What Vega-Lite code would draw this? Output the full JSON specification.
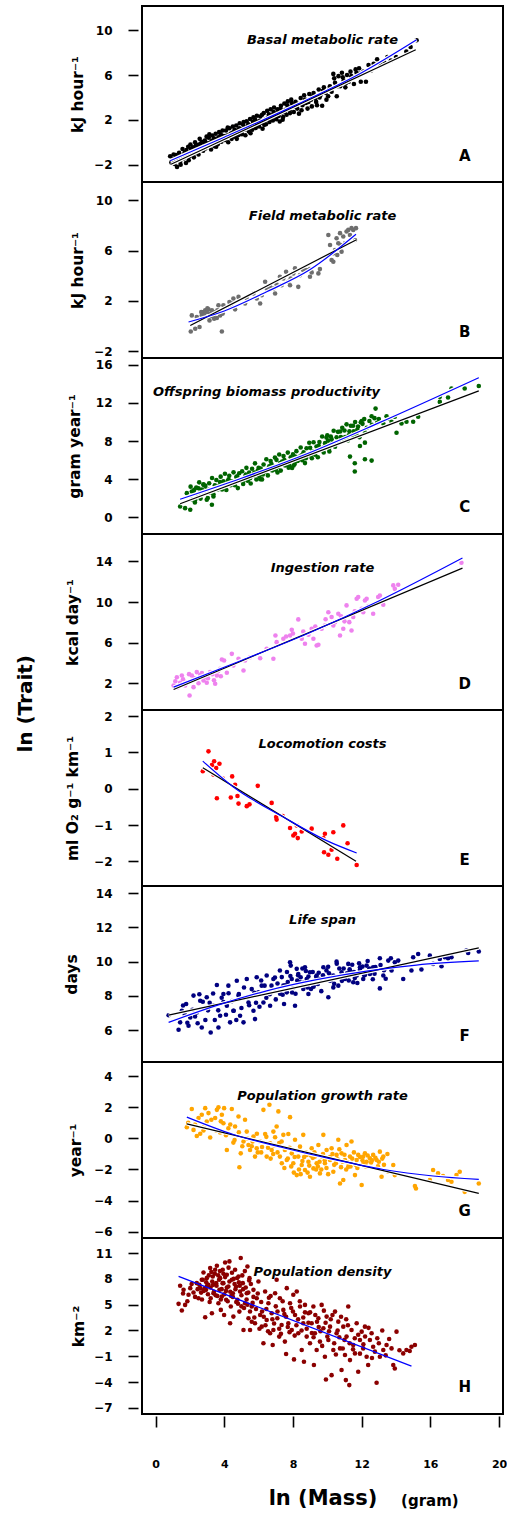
{
  "$schema": "https://vega.github.io/schema/vega-lite/v6.json",
  "background": "white",
  "padding": {"left": 15, "top": 5, "right": 0, "bottom": 0},
  "config": {
    "font": "DejaVu Sans",
    "view": {"stroke": "black", "strokeWidth": 2},
    "axis": {"domain": false, "grid": false, "format": "d", "tickColor": "black", "tickWidth": 1.6, "tickCount": 30, "labelFont": "DejaVu Sans", "labelFontWeight": "bold", "labelFontSize": 12, "labelColor": "black", "labelFlush": false, "labelBound": false, "labelOverlap": false, "titleFont": "DejaVu Sans", "titleFontWeight": "bold", "titleColor": "black"},
    "axisY": {"offset": 4, "tickSize": 10, "labelPadding": 16, "titleFontSize": 15.5, "titleBaseline": "alphabetic", "titleAngle": -90, "labelOverlap": false, "tickCount": 30},
    "axisX": {"offset": 2, "tickSize": 11, "labelPadding": 31, "labelFontSize": 11, "titleFontSize": 21, "titlePadding": 18, "labelOverlap": false, "tickCount": 30},
    "title": {"font": "DejaVu Sans", "fontSize": 13, "fontWeight": "bold", "fontStyle": "italic", "color": "black", "anchor": "middle", "offset": -41, "baseline": "alphabetic", "frame": "group"},
    "legend": {"disable": true}
  },
  "spacing": 0,
  "bounds": "flush",
  "datasets": {
    "ptsA": [
      {"x":0.85,"y":-1.25},{"x":0.92,"y":-1.8},{"x":0.98,"y":-1.5},{"x":1.05,"y":-1.1},{"x":1.1,"y":-1.95},{"x":1.18,"y":-1.15},{"x":1.25,"y":-2.2},{"x":1.3,"y":-1.55},{"x":1.37,"y":-0.95},{"x":1.43,"y":-1.75},{"x":1.5,"y":-1.2},{"x":1.57,"y":-0.6},{"x":1.63,"y":-1.45},{"x":1.7,"y":-0.9},{"x":1.77,"y":-1.85},{"x":1.83,"y":-1.05},{"x":1.9,"y":-0.4},{"x":1.97,"y":-1.25},
      {"x":2.03,"y":-0.2},{"x":2.1,"y":-0.95},{"x":2.17,"y":-0.45},{"x":2.23,"y":-1.35},{"x":2.3,"y":0.0},{"x":2.37,"y":-0.65},{"x":2.43,"y":-0.25},{"x":2.5,"y":-1.1},{"x":2.57,"y":0.3},{"x":2.63,"y":-0.4},{"x":2.7,"y":0.05},{"x":2.77,"y":-0.75},{"x":2.83,"y":-0.1},{"x":2.9,"y":-0.55},{"x":2.97,"y":0.5},
      {"x":3.03,"y":-0.3},{"x":3.1,"y":0.4},{"x":3.17,"y":-0.05},{"x":3.23,"y":-0.65},{"x":3.3,"y":0.6},{"x":3.37,"y":0.15},{"x":3.43,"y":-0.35},{"x":3.5,"y":0.75},{"x":3.57,"y":0.25},{"x":3.63,"y":-0.15},{"x":3.7,"y":0.9},{"x":3.77,"y":0.45},{"x":3.83,"y":0.05},{"x":3.9,"y":1.05},{"x":3.97,"y":0.55},
      {"x":4.03,"y":0.2},{"x":4.1,"y":1.05},{"x":4.17,"y":0.6},{"x":4.23,"y":0.0},{"x":4.3,"y":1.25},{"x":4.37,"y":0.75},{"x":4.43,"y":0.3},{"x":4.5,"y":1.4},{"x":4.57,"y":0.9},{"x":4.63,"y":0.5},{"x":4.7,"y":1.5},{"x":4.77,"y":1.05},{"x":4.83,"y":0.65},{"x":4.9,"y":1.7},{"x":4.97,"y":1.15},
      {"x":5.03,"y":0.72},{"x":5.1,"y":1.57},{"x":5.17,"y":1.12},{"x":5.23,"y":0.62},{"x":5.3,"y":1.87},{"x":5.37,"y":1.37},{"x":5.43,"y":0.97},{"x":5.5,"y":2.07},{"x":5.57,"y":1.52},{"x":5.63,"y":1.12},{"x":5.7,"y":2.22},{"x":5.77,"y":1.67},{"x":5.83,"y":1.27},{"x":5.9,"y":2.37},{"x":5.97,"y":1.82},
      {"x":6.03,"y":1.4},{"x":6.1,"y":2.3},{"x":6.17,"y":1.75},{"x":6.23,"y":1.2},{"x":6.3,"y":2.6},{"x":6.37,"y":2.0},{"x":6.43,"y":1.6},{"x":6.5,"y":2.8},{"x":6.57,"y":2.25},{"x":6.63,"y":1.8},{"x":6.7,"y":2.95},{"x":6.77,"y":2.4},{"x":6.83,"y":1.95},{"x":6.9,"y":3.1},{"x":6.97,"y":2.55},
      {"x":7.03,"y":2.05},{"x":7.1,"y":2.95},{"x":7.17,"y":2.35},{"x":7.23,"y":1.85},{"x":7.3,"y":3.25},{"x":7.37,"y":2.65},{"x":7.43,"y":2.25},{"x":7.5,"y":3.45},{"x":7.57,"y":2.9},{"x":7.63,"y":2.45},{"x":7.7,"y":3.65},{"x":7.77,"y":3.05},{"x":7.83,"y":2.6},{"x":7.9,"y":3.8},{"x":7.97,"y":3.2},
      {"x":8.05,"y":2.7},{"x":8.15,"y":3.6},{"x":8.25,"y":3.0},{"x":8.35,"y":2.55},{"x":8.45,"y":3.95},{"x":8.55,"y":3.3},{"x":8.65,"y":4.2},{"x":8.75,"y":3.5},{"x":8.85,"y":3.0},{"x":8.95,"y":4.3},
      {"x":9.05,"y":3.8},{"x":9.1,"y":3.2},{"x":9.2,"y":4.4},{"x":9.3,"y":3.9},{"x":9.4,"y":3.3},{"x":9.5,"y":4.7},{"x":9.6,"y":4.2},{"x":9.7,"y":3.25},{"x":9.8,"y":4.9},{"x":9.9,"y":4.4},
      {"x":10.05,"y":4.1},{"x":10.15,"y":5.0},{"x":10.25,"y":4.5},{"x":10.35,"y":6.1},{"x":10.45,"y":5.3},{"x":10.55,"y":4.1},{"x":10.65,"y":5.9},{"x":10.75,"y":5.0},{"x":10.85,"y":6.2},{"x":10.95,"y":5.5},
      {"x":11.05,"y":4.9},{"x":11.15,"y":6.0},{"x":11.25,"y":5.4},{"x":11.35,"y":6.3},{"x":11.45,"y":5.8},{"x":11.55,"y":5.2},{"x":11.65,"y":6.5},{"x":11.75,"y":5.9},{"x":11.85,"y":6.6},{"x":11.95,"y":5.4},
      {"x":12.1,"y":6.3},{"x":12.25,"y":5.4},{"x":12.4,"y":6.9},{"x":12.55,"y":6.4},{"x":12.7,"y":7.0},{"x":12.9,"y":7.4},{"x":13.1,"y":6.9},{"x":13.3,"y":7.2},{"x":13.5,"y":7.6},{"x":13.7,"y":7.3},{"x":14.0,"y":7.6},{"x":14.6,"y":8.1},{"x":14.85,"y":8.5},{"x":15.2,"y":9.1},
      {"x":1.02,"y":-1.6},{"x":1.21,"y":-1.35},{"x":1.4,"y":-1.3},{"x":1.46,"y":-2.0},{"x":1.66,"y":-1.1},{"x":1.8,"y":-0.7},{"x":1.93,"y":-1.6},{"x":2.07,"y":-0.6},{"x":2.2,"y":-1.1},{"x":2.34,"y":-0.3},{"x":2.47,"y":-0.8},{"x":2.6,"y":-0.15},{"x":2.74,"y":-0.45},{"x":2.87,"y":0.15},{"x":3.0,"y":-0.1},{"x":3.13,"y":0.7},{"x":3.27,"y":0.1},{"x":3.4,"y":0.35},{"x":3.53,"y":-0.4},{"x":3.66,"y":0.45},{"x":3.8,"y":0.7},{"x":3.93,"y":0.25},{"x":4.07,"y":0.5},{"x":4.2,"y":1.3},{"x":4.33,"y":0.55},{"x":4.47,"y":0.85},{"x":4.6,"y":1.1},{"x":4.73,"y":0.3},{"x":4.87,"y":1.25},{"x":5.0,"y":1.0},{"x":5.13,"y":1.8},{"x":5.27,"y":1.3},{"x":5.4,"y":1.6},{"x":5.53,"y":0.8},{"x":5.67,"y":1.85},{"x":5.8,"y":2.0},{"x":5.93,"y":1.45},{"x":6.07,"y":1.9},{"x":6.2,"y":2.45},{"x":6.33,"y":1.55},{"x":6.47,"y":2.1},{"x":6.6,"y":2.5},{"x":6.73,"y":2.1},{"x":6.87,"y":2.7},{"x":7.0,"y":2.3},{"x":7.13,"y":2.6},{"x":7.27,"y":3.0},{"x":7.4,"y":2.0},{"x":7.53,"y":2.7},{"x":7.67,"y":3.3},{"x":7.8,"y":2.85},{"x":7.93,"y":3.5},{"x":8.1,"y":3.2},{"x":8.3,"y":3.4},{"x":8.5,"y":2.85},{"x":8.7,"y":3.8},{"x":8.9,"y":3.6},{"x":9.15,"y":4.1},{"x":9.35,"y":3.6},{"x":9.55,"y":4.0},{"x":9.75,"y":4.6},{"x":9.95,"y":3.8},{"x":10.1,"y":4.7},{"x":10.4,"y":5.7},{"x":10.6,"y":5.0},{"x":10.9,"y":5.8},{"x":11.1,"y":5.3},{"x":11.4,"y":5.9},{"x":11.7,"y":6.2},{"x":11.9,"y":6.1}
    ],
    "fitA": [
      {"fit":"linear","x":0.9,"y":-1.97},{"fit":"linear","x":15.15,"y":8.25},
      {"fit":"quadratic","x":0.85,"y":-1.65},{"fit":"quadratic","x":4,"y":0.45},{"fit":"quadratic","x":8,"y":3.2},{"fit":"quadratic","x":12,"y":6.2},{"fit":"quadratic","x":15.2,"y":9.14}
    ],
    "ptsB": [
      {"x":2.05,"y":-0.43},{"x":2.11,"y":0.85},{"x":2.21,"y":0.32},{"x":2.4,"y":0.72},{"x":2.56,"y":-0.08},{"x":2.69,"y":0.85},{"x":2.79,"y":1.12},{"x":2.89,"y":1.25},{"x":2.98,"y":1.12},{"x":3.08,"y":1.33},{"x":3.18,"y":0.99},{"x":3.14,"y":0.45},{"x":3.28,"y":1.25},{"x":3.37,"y":0.85},{"x":3.47,"y":1.12},{"x":3.57,"y":0.64},{"x":3.66,"y":1.65},{"x":3.76,"y":0.85},{"x":3.86,"y":-0.43},{"x":3.95,"y":1.65},{"x":3.91,"y":0.99},{"x":4.15,"y":1.39},{"x":4.3,"y":1.92},{"x":4.44,"y":1.79},{"x":4.53,"y":2.19},{"x":4.83,"y":2.32},{"x":5.21,"y":1.79},{"x":5.7,"y":2.59},{"x":5.89,"y":2.19},{"x":6.18,"y":2.45},{"x":6.38,"y":3.52},{"x":6.47,"y":2.99},{"x":6.67,"y":3.12},{"x":6.96,"y":2.59},{"x":7.05,"y":3.31},{"x":7.34,"y":3.25},{"x":7.44,"y":3.79},{"x":7.6,"y":4.32},{"x":7.73,"y":3.52},{"x":7.87,"y":3.79},{"x":8.02,"y":4.19},{"x":8.12,"y":4.59},{"x":8.31,"y":3.12},{"x":8.41,"y":4.05},{"x":8.6,"y":4.45},{"x":8.8,"y":4.45},{"x":8.99,"y":4.53},{"x":9.09,"y":4.27},{"x":9.48,"y":4.19},{"x":10.06,"y":7.25},{"x":10.16,"y":6.45},{"x":10.25,"y":5.25},{"x":10.35,"y":5.79},{"x":10.45,"y":6.05},{"x":10.54,"y":6.99},{"x":10.64,"y":6.59},{"x":10.74,"y":7.39},{"x":10.83,"y":5.92},{"x":10.93,"y":7.12},{"x":11.03,"y":6.59},{"x":11.12,"y":7.52},{"x":11.22,"y":7.65},{"x":11.32,"y":7.25},{"x":11.41,"y":7.79},{"x":11.51,"y":7.65},{"x":11.61,"y":6.85},{"x":11.67,"y":7.79},{"x":10.35,"y":5.12},{"x":10.58,"y":5.65},{"x":10.78,"y":6.45},{"x":2.66,"y":1.12},{"x":2.83,"y":0.85},{"x":2.94,"y":0.72},{"x":3.02,"y":1.41},{"x":3.24,"y":0.8},{"x":3.41,"y":0.59},{"x":3.6,"y":1.25},{"x":2.5,"y":0.45},{"x":2.31,"y":-0.21},{"x":4.34,"y":1.65},{"x":4.63,"y":1.33},{"x":5.31,"y":2.19},{"x":6.09,"y":1.79},{"x":6.86,"y":2.99},{"x":7.24,"y":3.92},{"x":7.83,"y":3.25},{"x":8.99,"y":3.92},{"x":9.57,"y":4.53}
    ],
    "fitB": [
      {"fit":"linear","x":2.02,"y":0.05},{"fit":"linear","x":11.67,"y":6.85},
      {"fit":"quadratic","x":1.92,"y":0.32},{"fit":"quadratic","x":4,"y":1.2},{"fit":"quadratic","x":6.5,"y":2.75},{"fit":"quadratic","x":9,"y":4.5},{"fit":"quadratic","x":11.67,"y":7.3}
    ],
    "ptsC": [
      {"x":1.43,"y":1.15},{"x":1.72,"y":0.97},{"x":2.02,"y":0.8},{"x":1.82,"y":2.54},{"x":2.11,"y":2.71},{"x":2.31,"y":1.84},{"x":2.5,"y":3.05},{"x":2.79,"y":3.41},{"x":2.98,"y":1.84},{"x":3.28,"y":1.32},{"x":3.37,"y":2.19},{"x":3.08,"y":2.89},
      {"x":2.04,"y":3.22},{"x":2.12,"y":1.87},{"x":2.2,"y":2.72},{"x":2.29,"y":1.57},{"x":2.37,"y":3.12},{"x":2.45,"y":2.37},{"x":2.54,"y":3.67},{"x":2.62,"y":1.97},{"x":2.7,"y":2.92},{"x":2.79,"y":3.47},{"x":2.87,"y":2.47},{"x":2.95,"y":2.87},
      {"x":3.04,"y":2.02},{"x":3.12,"y":3.57},{"x":3.2,"y":2.82},{"x":3.29,"y":4.12},{"x":3.37,"y":2.42},{"x":3.45,"y":3.37},{"x":3.54,"y":3.92},{"x":3.62,"y":2.92},{"x":3.7,"y":3.32},{"x":3.79,"y":4.27},{"x":3.87,"y":2.92},{"x":3.95,"y":3.77},
      {"x":4.04,"y":4.57},{"x":4.12,"y":2.87},{"x":4.2,"y":3.82},{"x":4.29,"y":4.37},{"x":4.37,"y":3.37},{"x":4.45,"y":3.77},{"x":4.54,"y":4.72},{"x":4.62,"y":3.37},{"x":4.7,"y":4.22},{"x":4.79,"y":3.07},{"x":4.87,"y":4.62},{"x":4.95,"y":3.87},
      {"x":5.04,"y":4.83},{"x":5.12,"y":3.83},{"x":5.2,"y":4.23},{"x":5.29,"y":5.19},{"x":5.37,"y":3.84},{"x":5.45,"y":4.69},{"x":5.54,"y":3.55},{"x":5.62,"y":5.1},{"x":5.7,"y":4.36},{"x":5.79,"y":5.66},{"x":5.87,"y":3.97},{"x":5.95,"y":4.92},
      {"x":6.04,"y":4.28},{"x":6.12,"y":5.13},{"x":6.2,"y":3.98},{"x":6.29,"y":5.54},{"x":6.37,"y":4.79},{"x":6.45,"y":6.09},{"x":6.54,"y":4.4},{"x":6.62,"y":5.35},{"x":6.7,"y":5.9},{"x":6.79,"y":4.91},{"x":6.87,"y":5.32},{"x":6.95,"y":6.27},
      {"x":7.04,"y":6.03},{"x":7.12,"y":5.28},{"x":7.2,"y":6.59},{"x":7.29,"y":4.9},{"x":7.37,"y":5.86},{"x":7.45,"y":6.42},{"x":7.54,"y":5.43},{"x":7.62,"y":5.83},{"x":7.7,"y":6.79},{"x":7.79,"y":5.45},{"x":7.87,"y":6.31},{"x":7.95,"y":5.17},
      {"x":8.04,"y":5.43},{"x":8.12,"y":6.38},{"x":8.2,"y":6.94},{"x":8.29,"y":5.95},{"x":8.37,"y":6.36},{"x":8.45,"y":7.32},{"x":8.54,"y":5.98},{"x":8.62,"y":6.83},{"x":8.7,"y":5.69},{"x":8.79,"y":7.25},{"x":8.87,"y":6.51},{"x":8.95,"y":7.82},
      {"x":9.04,"y":6.49},{"x":9.12,"y":6.91},{"x":9.2,"y":7.88},{"x":9.29,"y":6.56},{"x":9.37,"y":7.43},{"x":9.45,"y":6.31},{"x":9.54,"y":7.89},{"x":9.62,"y":7.16},{"x":9.7,"y":8.48},{"x":9.79,"y":6.81},{"x":9.87,"y":7.78},{"x":9.95,"y":8.36},
      {"x":10.04,"y":8.04},{"x":10.12,"y":6.91},{"x":10.2,"y":8.48},{"x":10.29,"y":7.76},{"x":10.37,"y":9.08},{"x":10.45,"y":7.41},{"x":10.54,"y":8.39},{"x":10.62,"y":8.96},{"x":10.7,"y":7.98},{"x":10.79,"y":8.41},{"x":10.87,"y":9.38},{"x":10.95,"y":8.06},
      {"x":11.04,"y":8.43},{"x":11.12,"y":9.75},{"x":11.2,"y":8.06},{"x":11.29,"y":9.03},{"x":11.37,"y":9.6},{"x":11.45,"y":8.61},{"x":11.54,"y":9.03},{"x":11.62,"y":10.0},{"x":11.7,"y":8.66},{"x":11.79,"y":9.53},{"x":11.87,"y":8.4},{"x":11.95,"y":9.96},
      {"x":12.05,"y":9.8},{"x":12.15,"y":10.3},{"x":12.3,"y":9.4},{"x":12.45,"y":10.1},{"x":12.6,"y":9.7},{"x":12.75,"y":10.4},{"x":12.9,"y":9.9},{"x":13.0,"y":10.3},
      {"x":11.6,"y":4.8},{"x":12.19,"y":6.1},{"x":12.58,"y":5.95},{"x":11.6,"y":5.67},{"x":11.32,"y":6.37},{"x":11.9,"y":7.48},{"x":12.19,"y":7.83},{"x":14.03,"y":8.87},{"x":12.81,"y":11.4},{"x":12.58,"y":10.6},
      {"x":13.26,"y":9.84},{"x":13.55,"y":10.37},{"x":13.74,"y":10.02},{"x":13.93,"y":10.54},{"x":14.32,"y":9.84},{"x":14.61,"y":10.02},{"x":15.0,"y":10.02},{"x":15.29,"y":10.54},{"x":13.45,"y":10.6},{"x":16.55,"y":12.63},{"x":16.55,"y":12.1},{"x":17.03,"y":12.56},{"x":17.23,"y":13.5},{"x":18.0,"y":13.5},{"x":18.82,"y":13.77},
      {"x":2.25,"y":2.9},{"x":2.6,"y":2.6},{"x":2.9,"y":3.3},{"x":3.15,"y":2.6},{"x":3.45,"y":3.0},{"x":3.75,"y":3.7},{"x":3.95,"y":3.2},{"x":4.25,"y":4.0},{"x":4.5,"y":3.5},{"x":4.75,"y":4.3},{"x":5.0,"y":3.9},{"x":5.25,"y":4.5},{"x":5.5,"y":4.1},{"x":5.75,"y":4.7},{"x":6.0,"y":5.2},{"x":6.25,"y":4.5},{"x":6.5,"y":5.0},{"x":6.75,"y":5.6},{"x":7.0,"y":5.0},{"x":7.25,"y":5.7},{"x":7.5,"y":6.0},{"x":7.75,"y":5.2},{"x":8.0,"y":6.6},{"x":8.25,"y":5.9},{"x":8.5,"y":6.5},{"x":8.75,"y":6.2},{"x":9.0,"y":7.3},{"x":9.25,"y":6.9},{"x":9.5,"y":7.5},{"x":9.75,"y":7.3},{"x":10.0,"y":8.6},{"x":10.25,"y":8.2},{"x":10.5,"y":7.7},{"x":10.75,"y":9.0},{"x":11.0,"y":9.1},{"x":11.25,"y":8.6},{"x":11.5,"y":9.6},{"x":11.75,"y":9.2},{"x":12.0,"y":10.1},{"x":12.2,"y":8.9},{"x":10.1,"y":7.2},{"x":9.1,"y":6.2},{"x":8.1,"y":5.6},{"x":7.1,"y":4.7},{"x":6.1,"y":4.0},{"x":5.1,"y":3.5}
    ],
    "fitC": [
      {"fit":"linear","x":1.43,"y":1.43},{"fit":"linear","x":18.82,"y":13.25},
      {"fit":"quadratic","x":1.43,"y":1.9},{"fit":"quadratic","x":5,"y":4.1},{"fit":"quadratic","x":9,"y":6.8},{"fit":"quadratic","x":13,"y":9.9},{"fit":"quadratic","x":18.82,"y":14.64}
    ],
    "ptsD": [
      {"x":1.05,"y":1.78},{"x":1.24,"y":2.6},{"x":1.53,"y":2.77},{"x":1.43,"y":2.05},{"x":1.72,"y":1.78},{"x":1.98,"y":0.8},{"x":2.21,"y":1.62},{"x":2.11,"y":2.77},{"x":2.4,"y":3.1},{"x":2.6,"y":2.83},{"x":2.79,"y":2.28},{"x":2.98,"y":2.05},{"x":3.18,"y":3.1},{"x":3.47,"y":1.95},{"x":3.57,"y":2.77},{"x":3.76,"y":3.43},{"x":3.86,"y":4.34},{"x":3.99,"y":4.24},{"x":4.15,"y":3.03},{"x":4.44,"y":4.9},{"x":4.53,"y":3.76},{"x":4.83,"y":4.41},{"x":5.12,"y":3.26},{"x":5.21,"y":4.24},{"x":5.5,"y":4.57},{"x":6.09,"y":4.47},{"x":6.47,"y":5.4},{"x":6.86,"y":4.41},{"x":7.05,"y":6.05},{"x":6.98,"y":6.71},{"x":7.44,"y":6.38},{"x":7.83,"y":6.71},{"x":7.93,"y":7.27},{"x":8.31,"y":8.29},{"x":8.51,"y":6.38},{"x":8.7,"y":5.89},{"x":8.9,"y":6.78},{"x":9.09,"y":7.37},{"x":9.19,"y":6.38},{"x":9.38,"y":5.72},{"x":9.48,"y":5.79},{"x":9.67,"y":7.37},{"x":9.86,"y":7.69},{"x":10.06,"y":9.0},{"x":10.25,"y":8.52},{"x":10.45,"y":8.02},{"x":10.64,"y":8.84},{"x":10.74,"y":6.71},{"x":10.93,"y":7.37},{"x":11.12,"y":9.67},{"x":11.28,"y":8.02},{"x":11.41,"y":7.2},{"x":11.51,"y":8.52},{"x":11.71,"y":10.32},{"x":11.8,"y":10.49},{"x":12.0,"y":9.34},{"x":12.09,"y":9.0},{"x":12.19,"y":10.16},{"x":12.29,"y":10.32},{"x":12.67,"y":8.84},{"x":12.96,"y":10.49},{"x":13.06,"y":10.65},{"x":13.26,"y":9.73},{"x":13.84,"y":11.64},{"x":14.13,"y":11.7},{"x":13.93,"y":11.3},{"x":17.81,"y":13.87},
      {"x":1.15,"y":2.2},{"x":1.3,"y":1.6},{"x":1.6,"y":2.4},{"x":1.85,"y":2.1},{"x":1.95,"y":2.9},{"x":2.25,"y":2.5},{"x":2.5,"y":2.0},{"x":2.7,"y":3.0},{"x":2.85,"y":2.6},{"x":3.05,"y":2.5},{"x":3.3,"y":2.9},{"x":3.4,"y":2.3},{"x":3.65,"y":3.2},{"x":3.8,"y":2.7},{"x":7.6,"y":6.6},{"x":8.0,"y":6.9},{"x":8.6,"y":7.1},{"x":9.3,"y":7.6},{"x":9.9,"y":8.3},{"x":10.35,"y":7.7},{"x":10.8,"y":8.6},{"x":11.0,"y":8.1},{"x":11.6,"y":9.1},{"x":12.4,"y":9.6}
    ],
    "fitD": [
      {"fit":"linear","x":1.05,"y":1.39},{"fit":"linear","x":17.87,"y":13.34},
      {"fit":"quadratic","x":1.05,"y":1.62},{"fit":"quadratic","x":5,"y":4.25},{"fit":"quadratic","x":9,"y":7.0},{"fit":"quadratic","x":13,"y":10.1},{"fit":"quadratic","x":17.87,"y":14.33}
    ],
    "ptsE": [
      {"x":2.75,"y":0.48},{"x":3.08,"y":1.03},{"x":3.28,"y":0.65},{"x":3.41,"y":0.76},{"x":3.53,"y":0.57},{"x":3.72,"y":0.69},{"x":3.37,"y":0.39},{"x":3.57,"y":-0.26},{"x":3.91,"y":0.28},{"x":4.46,"y":0.34},{"x":4.38,"y":-0.24},{"x":4.63,"y":0.11},{"x":4.77,"y":-0.2},{"x":4.83,"y":-0.41},{"x":5.31,"y":-0.48},{"x":5.47,"y":-0.43},{"x":5.95,"y":0.08},{"x":6.76,"y":-0.39},{"x":7.02,"y":-0.78},{"x":7.05,"y":-0.85},{"x":7.4,"y":-0.75},{"x":7.83,"y":-1.08},{"x":8.02,"y":-1.29},{"x":8.12,"y":-1.24},{"x":8.22,"y":-1.01},{"x":8.28,"y":-1.36},{"x":8.51,"y":-1.18},{"x":9.09,"y":-1.1},{"x":9.77,"y":-1.36},{"x":9.86,"y":-1.24},{"x":9.81,"y":-1.75},{"x":10.06,"y":-1.82},{"x":10.25,"y":-1.68},{"x":10.35,"y":-1.2},{"x":10.58,"y":-1.93},{"x":10.93,"y":-1.01},{"x":11.18,"y":-1.5},{"x":11.71,"y":-2.1}
    ],
    "fitE": [
      {"fit":"linear","x":2.75,"y":0.58},{"fit":"linear","x":11.67,"y":-2.0},
      {"fit":"quadratic","x":2.75,"y":0.76},{"fit":"quadratic","x":4.53,"y":0.05},{"fit":"quadratic","x":7.44,"y":-0.78},{"fit":"quadratic","x":9.96,"y":-1.43},{"fit":"quadratic","x":11.71,"y":-1.77}
    ],
    "ptsF": [
      {"x":0.76,"y":6.88},{"x":1.34,"y":6.03},{"x":1.43,"y":6.46},{"x":1.53,"y":7.14},{"x":1.78,"y":7.53},{"x":1.92,"y":6.26},{"x":2.02,"y":6.75},{"x":2.21,"y":8.02},{"x":2.4,"y":7.04},{"x":2.6,"y":7.72},{"x":2.69,"y":6.16},{"x":2.98,"y":7.92},{"x":3.21,"y":5.87},{"x":3.37,"y":7.43},{"x":3.57,"y":8.64},{"x":3.66,"y":6.16},{"x":3.76,"y":6.85},{"x":3.95,"y":8.11},{"x":4.15,"y":7.43},{"x":4.24,"y":8.6},{"x":4.34,"y":6.46},{"x":4.53,"y":7.14},{"x":4.73,"y":8.89},{"x":4.83,"y":8.02},{"x":4.92,"y":6.85},{"x":5.12,"y":6.46},{"x":5.31,"y":8.99},{"x":5.41,"y":7.62},{"x":5.7,"y":7.14},{"x":5.79,"y":6.65},{"x":5.89,"y":9.09},{"x":5.99,"y":8.21},{"x":6.18,"y":8.6},{"x":6.28,"y":7.62},{"x":6.47,"y":9.19},{"x":6.67,"y":7.43},{"x":6.86,"y":8.99},{"x":7.05,"y":8.31},{"x":7.24,"y":9.48},{"x":7.44,"y":8.6},{"x":7.48,"y":7.53},{"x":7.64,"y":8.21},{"x":7.83,"y":9.96},{"x":7.87,"y":9.77},{"x":7.93,"y":8.99},{"x":8.02,"y":8.5},{"x":8.12,"y":7.43},{"x":8.22,"y":9.58},{"x":8.31,"y":9.28},{"x":8.41,"y":8.8},{"x":8.6,"y":8.41},{"x":8.7,"y":9.67},{"x":8.8,"y":8.99},{"x":8.9,"y":8.11},{"x":8.99,"y":9.38},{"x":9.19,"y":8.6},{"x":9.38,"y":9.19},{"x":9.57,"y":8.99},{"x":9.77,"y":9.67},{"x":10.06,"y":7.92},{"x":10.16,"y":8.89},{"x":10.35,"y":9.19},{"x":10.54,"y":10.0},{"x":10.64,"y":8.6},{"x":10.83,"y":9.38},{"x":11.03,"y":8.99},{"x":11.22,"y":9.87},{"x":11.32,"y":9.48},{"x":11.51,"y":8.8},{"x":11.71,"y":9.19},{"x":11.9,"y":9.67},{"x":12.09,"y":8.99},{"x":12.29,"y":9.77},{"x":12.48,"y":9.28},{"x":12.67,"y":9.67},{"x":13.06,"y":10.2},{"x":13.06,"y":8.44},{"x":13.26,"y":9.19},{"x":13.55,"y":10.06},{"x":13.74,"y":9.48},{"x":13.93,"y":9.96},{"x":14.13,"y":10.06},{"x":14.42,"y":8.99},{"x":14.9,"y":9.48},{"x":15.0,"y":10.26},{"x":15.29,"y":10.45},{"x":15.48,"y":9.54},{"x":15.97,"y":10.35},{"x":16.16,"y":9.87},{"x":16.55,"y":10.16},{"x":16.65,"y":9.73},{"x":16.84,"y":10.26},{"x":17.03,"y":10.2},{"x":17.23,"y":10.26},{"x":18.1,"y":10.65},{"x":18.2,"y":10.51},{"x":18.82,"y":10.59},
      {"x":1.6,"y":7.44},{"x":1.85,"y":6.44},{"x":2.15,"y":7.2},{"x":2.45,"y":6.41},{"x":2.75,"y":7.66},{"x":3.05,"y":7.16},{"x":3.35,"y":8.14},{"x":3.65,"y":7.16},{"x":3.95,"y":7.64},{"x":4.25,"y":8.16},{"x":4.55,"y":7.14},{"x":4.85,"y":8.11},{"x":5.15,"y":8.49},{"x":5.45,"y":7.46},{"x":5.75,"y":8.19},{"x":6.05,"y":7.37},{"x":6.35,"y":8.6},{"x":6.65,"y":8.1},{"x":6.95,"y":9.08},{"x":7.25,"y":8.13},{"x":7.55,"y":8.62},{"x":7.85,"y":9.16},{"x":8.15,"y":8.13},{"x":8.45,"y":9.09},{"x":8.75,"y":9.45},{"x":9.05,"y":8.41},{"x":9.35,"y":9.12},{"x":9.65,"y":8.28},{"x":9.95,"y":9.49},{"x":10.25,"y":8.94},{"x":10.55,"y":9.88},{"x":10.85,"y":8.88},{"x":11.15,"y":9.32},{"x":11.45,"y":9.82},{"x":11.75,"y":8.76},{"x":12.05,"y":9.71},{"x":12.35,"y":10.04},{"x":12.65,"y":8.97},
      {"x":7.1,"y":8.73},{"x":7.4,"y":8.07},{"x":7.7,"y":8.81},{"x":8.0,"y":8.5},{"x":8.3,"y":9.21},{"x":8.6,"y":8.77},{"x":8.9,"y":9.13},{"x":9.2,"y":8.54},{"x":9.5,"y":9.35},{"x":9.8,"y":8.91},{"x":10.1,"y":9.32},{"x":10.4,"y":8.71},{"x":10.7,"y":9.6},{"x":11.0,"y":9.15},{"x":11.3,"y":9.55},{"x":11.6,"y":9.04},{"x":11.9,"y":9.53},{"x":12.2,"y":9.23},{"x":12.8,"y":9.68},{"x":13.3,"y":9.5},
      {"x":1.7,"y":6.9},{"x":2.3,"y":6.8},{"x":2.55,"y":8.1},{"x":2.9,"y":6.6},{"x":3.15,"y":7.6},{"x":3.45,"y":6.6},{"x":3.85,"y":7.9},{"x":4.1,"y":6.9},{"x":4.45,"y":7.7},{"x":4.7,"y":6.6},{"x":5.0,"y":7.3},{"x":5.25,"y":7.9},{"x":5.6,"y":8.4},{"x":5.85,"y":7.6},{"x":6.15,"y":8.9},{"x":6.45,"y":7.9},{"x":6.75,"y":8.6},{"x":7.0,"y":7.8},{"x":7.35,"y":9.1},{"x":7.65,"y":9.4},{"x":7.95,"y":8.2},{"x":8.25,"y":8.9},{"x":8.55,"y":9.6},{"x":8.85,"y":8.5},{"x":9.15,"y":9.4},{"x":9.45,"y":8.7},{"x":9.75,"y":9.2},{"x":10.05,"y":9.7},{"x":10.35,"y":8.5},{"x":10.65,"y":9.1},{"x":10.95,"y":9.6},{"x":11.25,"y":8.9},{"x":11.55,"y":9.4},{"x":11.85,"y":9.9},{"x":12.15,"y":9.2},{"x":12.45,"y":9.6},{"x":12.75,"y":9.3},{"x":13.1,"y":9.8},{"x":13.4,"y":9.0},{"x":13.7,"y":10.2}
    ],
    "fitF": [
      {"fit":"linear","x":0.76,"y":6.88},{"fit":"linear","x":18.82,"y":10.8},
      {"fit":"quadratic","x":0.76,"y":6.46},{"fit":"quadratic","x":3.57,"y":7.45},{"fit":"quadratic","x":6.47,"y":8.3},{"fit":"quadratic","x":9.38,"y":8.95},{"fit":"quadratic","x":12.29,"y":9.45},{"fit":"quadratic","x":15.19,"y":9.8},{"fit":"quadratic","x":18.82,"y":10.04}
    ],
    "ptsG": [
      {"x":1.82,"y":0.72},{"x":2.11,"y":1.89},{"x":2.21,"y":0.55},{"x":2.4,"y":0.16},{"x":2.5,"y":1.31},{"x":2.69,"y":1.52},{"x":2.79,"y":0.51},{"x":2.89,"y":1.95},{"x":2.98,"y":1.09},{"x":3.08,"y":1.63},{"x":3.18,"y":0.06},{"x":3.37,"y":0.66},{"x":3.47,"y":1.31},{"x":3.57,"y":1.84},{"x":3.66,"y":2.0},{"x":3.76,"y":0.38},{"x":3.86,"y":1.52},{"x":3.95,"y":0.98},{"x":3.99,"y":1.95},{"x":4.15,"y":-0.74},{"x":4.24,"y":0.66},{"x":4.44,"y":1.89},{"x":4.53,"y":-0.27},{"x":4.63,"y":0.77},{"x":4.83,"y":1.41},{"x":4.88,"y":-1.86},{"x":4.96,"y":-0.96},{"x":5.12,"y":-0.2},{"x":5.21,"y":1.2},{"x":5.31,"y":0.44},{"x":5.41,"y":-0.42},{"x":5.5,"y":-0.74},{"x":5.7,"y":0.12},{"x":5.79,"y":-1.17},{"x":5.89,"y":-0.63},{"x":6.09,"y":-0.2},{"x":6.28,"y":1.84},{"x":6.38,"y":0.29},{"x":6.47,"y":-1.17},{"x":6.63,"y":2.17},{"x":6.67,"y":-0.31},{"x":6.76,"y":-0.74},{"x":6.86,"y":0.44},{"x":6.96,"y":0.08},{"x":7.05,"y":0.77},{"x":7.15,"y":1.74},{"x":7.24,"y":-1.17},{"x":7.34,"y":-0.2},{"x":7.44,"y":0.23},{"x":7.53,"y":-0.74},{"x":7.64,"y":-1.39},{"x":7.73,"y":0.29},{"x":7.83,"y":1.37},{"x":7.93,"y":-0.96},{"x":8.02,"y":-1.6},{"x":8.12,"y":-0.09},{"x":8.22,"y":-2.36},{"x":8.31,"y":-1.17},{"x":8.41,"y":-0.53},{"x":8.51,"y":-1.71},{"x":8.6,"y":0.23},{"x":8.7,"y":-2.03},{"x":8.8,"y":-1.06},{"x":8.9,"y":-1.5},{"x":8.99,"y":-2.47},{"x":9.09,"y":-0.63},{"x":9.19,"y":-1.93},{"x":9.28,"y":-1.17},{"x":9.38,"y":-1.6},{"x":9.48,"y":-0.42},{"x":9.57,"y":-2.25},{"x":9.67,"y":-1.17},{"x":9.77,"y":0.23},{"x":9.86,"y":-1.6},{"x":9.96,"y":-0.74},{"x":10.16,"y":-1.39},{"x":10.25,"y":-0.63},{"x":10.35,"y":-2.14},{"x":10.54,"y":-1.06},{"x":10.64,"y":-0.09},{"x":10.74,"y":-2.9},{"x":10.83,"y":-0.96},{"x":10.93,"y":-2.68},{"x":11.03,"y":-1.39},{"x":11.12,"y":-0.42},{"x":11.22,"y":-1.82},{"x":11.32,"y":-1.17},{"x":11.41,"y":-0.2},{"x":11.61,"y":-2.36},{"x":11.71,"y":-1.39},{"x":11.8,"y":-1.06},{"x":12.0,"y":-3.0},{"x":12.09,"y":-1.17},{"x":12.19,"y":-0.96},{"x":12.29,"y":-1.5},{"x":12.48,"y":-1.28},{"x":12.67,"y":-1.06},{"x":12.87,"y":-1.39},{"x":13.06,"y":-0.85},{"x":13.16,"y":-2.47},{"x":13.26,"y":-1.17},{"x":13.55,"y":-2.14},{"x":13.84,"y":-1.71},{"x":13.93,"y":-2.36},{"x":15.1,"y":-3.07},{"x":15.16,"y":-3.22},{"x":15.97,"y":-2.68},{"x":16.16,"y":-2.03},{"x":16.45,"y":-2.25},{"x":16.74,"y":-2.42},{"x":17.03,"y":-2.68},{"x":17.23,"y":-2.79},{"x":17.52,"y":-2.36},{"x":17.71,"y":-2.14},{"x":18.0,"y":-3.44},{"x":18.82,"y":-2.9},
      {"x":7.7,"y":-1.3},{"x":7.9,"y":-1.8},{"x":8.1,"y":-1.2},{"x":8.35,"y":-2.0},{"x":8.55,"y":-1.45},{"x":8.75,"y":-0.9},{"x":8.95,"y":-1.75},{"x":9.15,"y":-1.25},{"x":9.35,"y":-2.0},{"x":9.55,"y":-1.5},{"x":9.75,"y":-1.0},{"x":9.95,"y":-1.9},{"x":10.15,"y":-1.2},{"x":10.4,"y":-1.7},{"x":10.6,"y":-1.35},{"x":10.8,"y":-1.85},{"x":11.0,"y":-1.05},{"x":11.2,"y":-1.55},{"x":11.45,"y":-1.3},{"x":11.65,"y":-1.7},{"x":11.9,"y":-1.2},{"x":12.1,"y":-1.6},{"x":12.35,"y":-1.1},{"x":12.55,"y":-1.55},{"x":12.8,"y":-1.25},{"x":13.0,"y":-1.5},{"x":13.3,"y":-1.7},{"x":13.5,"y":-1.0},
      {"x":5.6,"y":-0.5},{"x":5.95,"y":-0.9},{"x":6.2,"y":-0.55},{"x":6.45,"y":0.1},{"x":6.7,"y":-1.3},{"x":6.9,"y":-0.45},{"x":7.1,"y":-0.9},{"x":7.35,"y":-1.6},
      {"x":1.9,"y":1.0},{"x":2.3,"y":0.9},{"x":2.6,"y":0.3},{"x":2.85,"y":0.85},{"x":3.25,"y":1.2},{"x":3.55,"y":0.5},{"x":3.8,"y":1.1},{"x":4.1,"y":0.2},{"x":4.35,"y":0.9},{"x":4.6,"y":-0.1},{"x":4.85,"y":0.4},{"x":5.05,"y":-0.5},{"x":5.35,"y":0.0},{"x":5.65,"y":-0.2},{"x":5.9,"y":0.3},{"x":6.15,"y":-0.9},{"x":6.55,"y":-0.6},{"x":6.85,"y":-1.0},{"x":7.2,"y":-0.3},{"x":7.5,"y":-1.9},{"x":7.8,"y":-0.6},{"x":8.05,"y":-2.2},{"x":8.45,"y":-2.3},{"x":8.65,"y":-1.2},{"x":8.85,"y":-2.2},{"x":9.05,"y":-1.1},{"x":9.25,"y":-0.9},{"x":9.45,"y":-1.8},{"x":9.65,"y":-2.0},{"x":9.85,"y":-1.4},{"x":10.05,"y":-2.3},{"x":10.3,"y":-1.0},{"x":10.5,"y":-1.6},{"x":10.7,"y":-0.7},{"x":10.9,"y":-1.5},{"x":11.1,"y":-2.0},{"x":11.35,"y":-1.8},{"x":11.55,"y":-0.9},{"x":11.75,"y":-1.9},{"x":12.05,"y":-1.4},{"x":12.25,"y":-1.8},{"x":12.6,"y":-1.4},{"x":12.95,"y":-1.8},{"x":13.2,"y":-1.3}
    ],
    "fitG": [
      {"fit":"linear","x":1.82,"y":0.94},{"fit":"linear","x":18.82,"y":-3.54},
      {"fit":"quadratic","x":1.82,"y":1.37},{"fit":"quadratic","x":4.53,"y":0.25},{"fit":"quadratic","x":7.44,"y":-0.6},{"fit":"quadratic","x":10.35,"y":-1.35},{"fit":"quadratic","x":13.26,"y":-2.0},{"fit":"quadratic","x":16.16,"y":-2.42},{"fit":"quadratic","x":18.82,"y":-2.64}
    ],
    "ptsH": [
      {"x":1.34,"y":5.09},{"x":1.53,"y":4.31},{"x":1.43,"y":7.19},{"x":1.72,"y":4.97},{"x":1.63,"y":6.72},{"x":1.92,"y":6.14},{"x":2.02,"y":6.92},{"x":2.21,"y":6.41},{"x":2.4,"y":7.5},{"x":2.5,"y":5.75},{"x":2.6,"y":6.92},{"x":2.69,"y":7.89},{"x":2.79,"y":8.74},{"x":2.89,"y":3.53},{"x":2.94,"y":6.72},{"x":2.98,"y":8.08},{"x":3.08,"y":7.31},{"x":3.18,"y":9.25},{"x":3.21,"y":5.75},{"x":3.28,"y":4.0},{"x":3.33,"y":8.28},{"x":3.37,"y":6.33},{"x":3.47,"y":9.05},{"x":3.53,"y":7.5},{"x":3.57,"y":9.52},{"x":3.66,"y":5.17},{"x":3.72,"y":6.72},{"x":3.76,"y":8.08},{"x":3.8,"y":4.39},{"x":3.86,"y":5.94},{"x":3.91,"y":9.05},{"x":3.95,"y":7.5},{"x":3.99,"y":3.8},{"x":4.05,"y":9.91},{"x":4.11,"y":5.56},{"x":4.15,"y":8.47},{"x":4.24,"y":7.11},{"x":4.3,"y":10.03},{"x":4.34,"y":2.83},{"x":4.38,"y":4.78},{"x":4.44,"y":7.89},{"x":4.5,"y":6.33},{"x":4.53,"y":3.61},{"x":4.63,"y":9.05},{"x":4.69,"y":7.11},{"x":4.77,"y":5.56},{"x":4.83,"y":8.28},{"x":4.88,"y":4.19},{"x":4.92,"y":6.53},{"x":4.96,"y":10.42},{"x":5.08,"y":7.5},{"x":5.12,"y":2.05},{"x":5.21,"y":5.17},{"x":5.31,"y":6.33},{"x":5.35,"y":9.44},{"x":5.41,"y":3.41},{"x":5.47,"y":8.08},{"x":5.5,"y":2.05},{"x":5.6,"y":4.78},{"x":5.7,"y":6.72},{"x":5.79,"y":2.83},{"x":5.89,"y":5.75},{"x":5.99,"y":7.69},{"x":6.09,"y":3.8},{"x":6.18,"y":2.44},{"x":6.28,"y":0.5},{"x":6.38,"y":6.53},{"x":6.47,"y":3.22},{"x":6.57,"y":5.17},{"x":6.67,"y":1.67},{"x":6.76,"y":4.0},{"x":6.82,"y":0.3},{"x":6.86,"y":2.05},{"x":6.96,"y":6.33},{"x":7.05,"y":7.89},{"x":7.09,"y":3.41},{"x":7.2,"y":1.28},{"x":7.24,"y":5.75},{"x":7.34,"y":2.64},{"x":7.44,"y":4.39},{"x":7.53,"y":0.7},{"x":7.6,"y":-0.75},{"x":7.64,"y":6.92},{"x":7.73,"y":2.83},{"x":7.83,"y":5.17},{"x":7.93,"y":2.05},{"x":8.02,"y":6.14},{"x":8.06,"y":-1.37},{"x":8.12,"y":3.8},{"x":8.22,"y":6.53},{"x":8.31,"y":1.67},{"x":8.41,"y":4.78},{"x":8.51,"y":-0.28},{"x":8.6,"y":2.83},{"x":8.64,"y":-1.64},{"x":8.7,"y":4.97},{"x":8.8,"y":1.28},{"x":8.9,"y":4.0},{"x":8.99,"y":0.5},{"x":9.09,"y":2.83},{"x":9.19,"y":4.78},{"x":9.22,"y":-2.03},{"x":9.28,"y":1.67},{"x":9.38,"y":-0.28},{"x":9.48,"y":3.41},{"x":9.57,"y":0.7},{"x":9.67,"y":4.97},{"x":9.77,"y":2.25},{"x":9.86,"y":-1.06},{"x":9.92,"y":-3.7},{"x":9.96,"y":3.61},{"x":10.06,"y":0.89},{"x":10.16,"y":2.44},{"x":10.25,"y":-3.2},{"x":10.35,"y":-0.28},{"x":10.45,"y":4.19},{"x":10.54,"y":1.67},{"x":10.64,"y":3.02},{"x":10.74,"y":-0.09},{"x":10.83,"y":-2.61},{"x":10.93,"y":2.44},{"x":11.03,"y":-0.86},{"x":11.08,"y":-3.78},{"x":11.12,"y":1.28},{"x":11.22,"y":4.78},{"x":11.28,"y":-4.36},{"x":11.32,"y":-1.45},{"x":11.41,"y":2.05},{"x":11.51,"y":0.3},{"x":11.61,"y":-0.67},{"x":11.71,"y":2.83},{"x":11.8,"y":-2.81},{"x":11.9,"y":0.89},{"x":12.0,"y":1.86},{"x":12.09,"y":-0.09},{"x":12.19,"y":2.44},{"x":12.29,"y":-1.06},{"x":12.38,"y":-2.03},{"x":12.48,"y":0.89},{"x":12.58,"y":1.67},{"x":12.67,"y":0.11},{"x":12.77,"y":-0.47},{"x":12.87,"y":-4.09},{"x":12.91,"y":1.09},{"x":13.06,"y":-1.06},{"x":13.26,"y":-0.28},{"x":13.45,"y":0.3},{"x":13.74,"y":-0.09},{"x":13.84,"y":-2.03},{"x":13.93,"y":-2.42},{"x":14.03,"y":1.86},{"x":14.42,"y":-0.67},{"x":14.61,"y":-0.28},{"x":14.9,"y":0.11},
      {"x":2.55,"y":7.3},{"x":2.65,"y":6.4},{"x":2.75,"y":7.9},{"x":2.85,"y":6.9},{"x":2.95,"y":7.6},{"x":3.05,"y":6.2},{"x":3.1,"y":8.4},{"x":3.2,"y":7.0},{"x":3.3,"y":7.7},{"x":3.4,"y":6.5},{"x":3.45,"y":8.6},{"x":3.55,"y":7.2},{"x":3.6,"y":6.0},{"x":3.7,"y":7.9},{"x":3.75,"y":8.9},{"x":3.85,"y":6.8},{"x":3.9,"y":7.5},{"x":4.0,"y":6.2},{"x":4.05,"y":8.2},{"x":4.15,"y":7.0},{"x":4.2,"y":5.4},{"x":4.3,"y":7.7},{"x":4.35,"y":6.5},{"x":4.45,"y":8.7},{"x":4.5,"y":5.9},{"x":4.6,"y":7.4},{"x":4.65,"y":6.8},{"x":4.75,"y":8.1},{"x":4.8,"y":5.1},{"x":4.9,"y":7.2},{"x":5.0,"y":6.1},{"x":5.05,"y":8.4},{"x":5.15,"y":4.6},{"x":5.25,"y":7.0},{"x":5.3,"y":5.6},{"x":5.4,"y":6.4},{"x":5.5,"y":4.2},{"x":5.55,"y":7.4},{"x":5.65,"y":5.2},{"x":5.75,"y":3.5},
      {"x":6.2,"y":4.2},{"x":6.4,"y":2.6},{"x":6.6,"y":5.8},{"x":6.8,"y":3.3},{"x":7.0,"y":4.8},{"x":7.2,"y":2.2},{"x":7.4,"y":5.4},{"x":7.6,"y":3.6},{"x":7.8,"y":1.8},{"x":8.0,"y":4.2},{"x":8.2,"y":2.6},{"x":8.4,"y":5.4},{"x":8.6,"y":3.5},{"x":8.8,"y":2.2},{"x":9.0,"y":4.1},{"x":9.2,"y":1.2},{"x":9.4,"y":3.0},{"x":9.6,"y":1.9},{"x":9.8,"y":4.3},{"x":10.0,"y":1.3},{"x":10.2,"y":3.3},{"x":10.4,"y":0.5},{"x":10.6,"y":2.0},{"x":10.8,"y":3.6},{"x":11.0,"y":0.9},{"x":11.2,"y":2.6},{"x":11.5,"y":-0.2},{"x":11.8,"y":1.5},{"x":12.1,"y":0.4},{"x":12.4,"y":2.3},
      {"x":1.6,"y":6.3},{"x":1.85,"y":5.4},{"x":2.1,"y":7.4},{"x":2.3,"y":5.9},{"x":2.45,"y":6.8},{"x":2.7,"y":5.6},{"x":2.8,"y":6.6},{"x":3.0,"y":7.2},{"x":3.15,"y":5.3},{"x":3.25,"y":8.8},{"x":3.35,"y":7.3},{"x":3.5,"y":6.1},{"x":3.65,"y":8.4},{"x":3.8,"y":5.6},{"x":3.95,"y":8.6},{"x":4.1,"y":6.6},{"x":4.25,"y":9.3},{"x":4.4,"y":6.0},{"x":4.55,"y":8.0},{"x":4.7,"y":5.3},{"x":4.85,"y":7.6},{"x":5.0,"y":4.8},{"x":5.1,"y":6.8},{"x":5.2,"y":8.9},{"x":5.35,"y":5.0},{"x":5.45,"y":7.8},{"x":5.6,"y":3.0},{"x":5.7,"y":5.9},{"x":5.85,"y":4.5},{"x":5.95,"y":6.3},{"x":6.05,"y":2.2},{"x":6.15,"y":5.3},{"x":6.3,"y":3.6},{"x":6.45,"y":4.5},{"x":6.55,"y":1.9},{"x":6.7,"y":6.0},{"x":6.9,"y":2.8},{"x":7.1,"y":4.2},{"x":7.3,"y":1.6},{"x":7.5,"y":3.9},{"x":7.7,"y":2.4},{"x":7.9,"y":4.6},{"x":8.1,"y":1.4},{"x":8.3,"y":3.3},{"x":8.5,"y":2.0},{"x":8.7,"y":4.1},{"x":8.9,"y":2.9},{"x":9.1,"y":1.7},{"x":9.3,"y":3.8},{"x":9.5,"y":2.4},{"x":9.7,"y":0.2},{"x":9.9,"y":2.9},{"x":10.1,"y":1.9},{"x":10.3,"y":3.8},{"x":10.5,"y":-0.8},{"x":10.7,"y":1.2},{"x":10.9,"y":-0.1},{"x":11.1,"y":3.3},{"x":11.3,"y":0.5},{"x":11.6,"y":1.1},{"x":11.9,"y":-0.7},{"x":12.2,"y":1.3},{"x":12.6,"y":-1.2},{"x":13.0,"y":0.5},{"x":13.4,"y":-0.9},{"x":13.6,"y":1.0},{"x":14.2,"y":-0.3},{"x":14.8,"y":-0.4},{"x":15.1,"y":0.3},{"x":13.2,"y":2.0}
    ],
    "fitH": [
      {"fit":"quadratic","x":1.34,"y":8.28},{"fit":"quadratic","x":14.9,"y":-2.15}
    ]
  },
  "vconcat": [
    {
      "width": 361, "height": 176,
      "title": {"text": "Basal metabolic rate"},
      "layer": [
        {"data": {"name": "ptsA"}, "mark": {"type": "circle", "size": 21, "opacity": 1, "color": "#000000"},
         "encoding": {
           "x": {"field": "x", "type": "quantitative", "scale": {"domain": [-0.79, 20.23], "nice": false, "zero": false}, "axis": null},
           "y": {"field": "y", "type": "quantitative", "scale": {"domain": [-3.55, 12.16], "nice": false, "zero": false}, "axis": {"values": [-2, 2, 6, 10], "format": "d", "tickCount": 30, "labelOverlap": false, "title": "kJ hour⁻¹", "titleX": -56}}}},
        {"data": {"name": "fitA"}, "mark": {"type": "line", "color": "white", "strokeWidth": 3.5, "interpolate": "monotone"},
         "encoding": {"x": {"field": "x", "type": "quantitative"}, "y": {"field": "y", "type": "quantitative"}, "detail": {"field": "fit"}}},
        {"data": {"name": "fitA"}, "mark": {"type": "line", "strokeWidth": 1.2, "interpolate": "monotone"},
         "encoding": {"x": {"field": "x", "type": "quantitative"}, "y": {"field": "y", "type": "quantitative"}, "color": {"field": "fit", "type": "nominal", "scale": {"domain": ["linear", "quadratic"], "range": ["#000000", "#0000ff"]}, "legend": null}}},
        {"data": {"values": [{}]}, "mark": {"type": "text", "fontSize": 15, "fontWeight": "bold", "align": "center", "baseline": "middle", "color": "black"},
         "encoding": {"x": {"datum": 18.0}, "y": {"datum": -1.26}, "text": {"value": "A"}}}
      ]
    },
    {
      "width": 361, "height": 176,
      "title": {"text": "Field metabolic rate"},
      "layer": [
        {"data": {"name": "ptsB"}, "mark": {"type": "circle", "size": 21, "opacity": 1, "color": "#6e6e6e"},
         "encoding": {
           "x": {"field": "x", "type": "quantitative", "scale": {"domain": [-0.79, 20.23], "nice": false, "zero": false}, "axis": null},
           "y": {"field": "y", "type": "quantitative", "scale": {"domain": [-2.54, 11.46], "nice": false, "zero": false}, "axis": {"values": [-2, 2, 6, 10], "format": "d", "tickCount": 30, "labelOverlap": false, "title": "kJ hour⁻¹", "titleX": -56}}}},
        {"data": {"name": "fitB"}, "mark": {"type": "line", "color": "white", "strokeWidth": 3.5, "interpolate": "monotone"},
         "encoding": {"x": {"field": "x", "type": "quantitative"}, "y": {"field": "y", "type": "quantitative"}, "detail": {"field": "fit"}}},
        {"data": {"name": "fitB"}, "mark": {"type": "line", "strokeWidth": 1.2, "interpolate": "monotone"},
         "encoding": {"x": {"field": "x", "type": "quantitative"}, "y": {"field": "y", "type": "quantitative"}, "color": {"field": "fit", "type": "nominal", "scale": {"domain": ["linear", "quadratic"], "range": ["#000000", "#0000ff"]}, "legend": null}}},
        {"data": {"values": [{}]}, "mark": {"type": "text", "fontSize": 15, "fontWeight": "bold", "align": "center", "baseline": "middle", "color": "black"},
         "encoding": {"x": {"datum": 18.0}, "y": {"datum": -0.46}, "text": {"value": "B"}}}
      ]
    },
    {
      "width": 361, "height": 176,
      "title": {"text": "Offspring biomass productivity", "anchor": "start", "dx": 11},
      "layer": [
        {"data": {"name": "ptsC"}, "mark": {"type": "circle", "size": 21, "opacity": 1, "color": "#006400"},
         "encoding": {
           "x": {"field": "x", "type": "quantitative", "scale": {"domain": [-0.79, 20.23], "nice": false, "zero": false}, "axis": null},
           "y": {"field": "y", "type": "quantitative", "scale": {"domain": [-1.74, 16.7], "nice": false, "zero": false}, "axis": {"values": [0, 4, 8, 12, 16], "format": "d", "tickCount": 30, "labelOverlap": false, "title": "gram year⁻¹", "titleX": -58.5}}}},
        {"data": {"name": "fitC"}, "mark": {"type": "line", "color": "white", "strokeWidth": 3.5, "interpolate": "monotone"},
         "encoding": {"x": {"field": "x", "type": "quantitative"}, "y": {"field": "y", "type": "quantitative"}, "detail": {"field": "fit"}}},
        {"data": {"name": "fitC"}, "mark": {"type": "line", "strokeWidth": 1.2, "interpolate": "monotone"},
         "encoding": {"x": {"field": "x", "type": "quantitative"}, "y": {"field": "y", "type": "quantitative"}, "color": {"field": "fit", "type": "nominal", "scale": {"domain": ["linear", "quadratic"], "range": ["#000000", "#0000ff"]}, "legend": null}}},
        {"data": {"values": [{}]}, "mark": {"type": "text", "fontSize": 15, "fontWeight": "bold", "align": "center", "baseline": "middle", "color": "black"},
         "encoding": {"x": {"datum": 18.0}, "y": {"datum": 1.04}, "text": {"value": "C"}}}
      ]
    },
    {
      "width": 361, "height": 176,
      "title": {"text": "Ingestion rate"},
      "layer": [
        {"data": {"name": "ptsD"}, "mark": {"type": "circle", "size": 21, "opacity": 1, "color": "#ee82ee"},
         "encoding": {
           "x": {"field": "x", "type": "quantitative", "scale": {"domain": [-0.79, 20.23], "nice": false, "zero": false}, "axis": null},
           "y": {"field": "y", "type": "quantitative", "scale": {"domain": [-0.63, 16.7], "nice": false, "zero": false}, "axis": {"values": [2, 6, 10, 14], "format": "d", "tickCount": 30, "labelOverlap": false, "title": "kcal day⁻¹", "titleX": -61}}}},
        {"data": {"name": "fitD"}, "mark": {"type": "line", "color": "white", "strokeWidth": 3.5, "interpolate": "monotone"},
         "encoding": {"x": {"field": "x", "type": "quantitative"}, "y": {"field": "y", "type": "quantitative"}, "detail": {"field": "fit"}}},
        {"data": {"name": "fitD"}, "mark": {"type": "line", "strokeWidth": 1.2, "interpolate": "monotone"},
         "encoding": {"x": {"field": "x", "type": "quantitative"}, "y": {"field": "y", "type": "quantitative"}, "color": {"field": "fit", "type": "nominal", "scale": {"domain": ["linear", "quadratic"], "range": ["#000000", "#0000ff"]}, "legend": null}}},
        {"data": {"values": [{}]}, "mark": {"type": "text", "fontSize": 15, "fontWeight": "bold", "align": "center", "baseline": "middle", "color": "black"},
         "encoding": {"x": {"datum": 18.0}, "y": {"datum": 1.95}, "text": {"value": "D"}}},
        {"data": {"values": [{}]}, "mark": {"type": "text", "fontSize": 20, "fontWeight": "bold", "align": "center", "baseline": "middle", "angle": 270, "color": "black"},
         "encoding": {"x": {"datum": -7.52}, "y": {"datum": -0.02}, "text": {"value": "ln (Trait)"}}}
      ]
    },
    {
      "width": 361, "height": 176,
      "title": {"text": "Locomotion costs"},
      "layer": [
        {"data": {"name": "ptsE"}, "mark": {"type": "circle", "size": 21, "opacity": 1, "color": "#ff0000"},
         "encoding": {
           "x": {"field": "x", "type": "quantitative", "scale": {"domain": [-0.79, 20.23], "nice": false, "zero": false}, "axis": null},
           "y": {"field": "y", "type": "quantitative", "scale": {"domain": [-2.68, 2.17], "nice": false, "zero": false}, "axis": {"values": [-2, -1, 0, 1, 2], "format": "d", "tickCount": 30, "labelOverlap": false, "title": "ml O₂ g⁻¹ km⁻¹", "titleX": -61}}}},
        {"data": {"name": "fitE"}, "mark": {"type": "line", "color": "white", "strokeWidth": 3.5, "interpolate": "monotone"},
         "encoding": {"x": {"field": "x", "type": "quantitative"}, "y": {"field": "y", "type": "quantitative"}, "detail": {"field": "fit"}}},
        {"data": {"name": "fitE"}, "mark": {"type": "line", "strokeWidth": 1.2, "interpolate": "monotone"},
         "encoding": {"x": {"field": "x", "type": "quantitative"}, "y": {"field": "y", "type": "quantitative"}, "color": {"field": "fit", "type": "nominal", "scale": {"domain": ["linear", "quadratic"], "range": ["#000000", "#0000ff"]}, "legend": null}}},
        {"data": {"values": [{}]}, "mark": {"type": "text", "fontSize": 15, "fontWeight": "bold", "align": "center", "baseline": "middle", "color": "black"},
         "encoding": {"x": {"datum": 18.0}, "y": {"datum": -1.96}, "text": {"value": "E"}}}
      ]
    },
    {
      "width": 361, "height": 176,
      "title": {"text": "Life span"},
      "layer": [
        {"data": {"name": "ptsF"}, "mark": {"type": "circle", "size": 21, "opacity": 1, "color": "#000080"},
         "encoding": {
           "x": {"field": "x", "type": "quantitative", "scale": {"domain": [-0.79, 20.23], "nice": false, "zero": false}, "axis": null},
           "y": {"field": "y", "type": "quantitative", "scale": {"domain": [4.15, 14.41], "nice": false, "zero": false}, "axis": {"values": [6, 8, 10, 12, 14], "format": "d", "tickCount": 30, "labelOverlap": false, "title": "days", "titleX": -62}}}},
        {"data": {"name": "fitF"}, "mark": {"type": "line", "color": "white", "strokeWidth": 3.5, "interpolate": "monotone"},
         "encoding": {"x": {"field": "x", "type": "quantitative"}, "y": {"field": "y", "type": "quantitative"}, "detail": {"field": "fit"}}},
        {"data": {"name": "fitF"}, "mark": {"type": "line", "strokeWidth": 1.2, "interpolate": "monotone"},
         "encoding": {"x": {"field": "x", "type": "quantitative"}, "y": {"field": "y", "type": "quantitative"}, "color": {"field": "fit", "type": "nominal", "scale": {"domain": ["linear", "quadratic"], "range": ["#000000", "#0000ff"]}, "legend": null}}},
        {"data": {"values": [{}]}, "mark": {"type": "text", "fontSize": 15, "fontWeight": "bold", "align": "center", "baseline": "middle", "color": "black"},
         "encoding": {"x": {"datum": 18.0}, "y": {"datum": 5.67}, "text": {"value": "F"}}}
      ]
    },
    {
      "width": 361, "height": 176,
      "title": {"text": "Population growth rate"},
      "layer": [
        {"data": {"name": "ptsG"}, "mark": {"type": "circle", "size": 21, "opacity": 1, "color": "#ffa500"},
         "encoding": {
           "x": {"field": "x", "type": "quantitative", "scale": {"domain": [-0.79, 20.23], "nice": false, "zero": false}, "axis": null},
           "y": {"field": "y", "type": "quantitative", "scale": {"domain": [-6.41, 4.92], "nice": false, "zero": false}, "axis": {"values": [-6, -4, -2, 0, 2, 4], "format": "d", "tickCount": 30, "labelOverlap": false, "title": "year⁻¹", "titleX": -58}}}},
        {"data": {"name": "fitG"}, "mark": {"type": "line", "color": "white", "strokeWidth": 3.5, "interpolate": "monotone"},
         "encoding": {"x": {"field": "x", "type": "quantitative"}, "y": {"field": "y", "type": "quantitative"}, "detail": {"field": "fit"}}},
        {"data": {"name": "fitG"}, "mark": {"type": "line", "strokeWidth": 1.2, "interpolate": "monotone"},
         "encoding": {"x": {"field": "x", "type": "quantitative"}, "y": {"field": "y", "type": "quantitative"}, "color": {"field": "fit", "type": "nominal", "scale": {"domain": ["linear", "quadratic"], "range": ["#000000", "#0000ff"]}, "legend": null}}},
        {"data": {"values": [{}]}, "mark": {"type": "text", "fontSize": 15, "fontWeight": "bold", "align": "center", "baseline": "middle", "color": "black"},
         "encoding": {"x": {"datum": 18.0}, "y": {"datum": -4.69}, "text": {"value": "G"}}}
      ]
    },
    {
      "width": 361, "height": 176,
      "title": {"text": "Population density"},
      "layer": [
        {"data": {"name": "ptsH"}, "mark": {"type": "circle", "size": 21, "opacity": 1, "color": "#8b0000"},
         "encoding": {
           "x": {"field": "x", "type": "quantitative", "scale": {"domain": [-0.79, 20.23], "nice": false, "zero": false}, "axis": {"values": [0, 4, 8, 12, 16, 20], "format": "d", "tickCount": 30, "labelOverlap": false, "title": "ln (Mass)"}},
           "y": {"field": "y", "type": "quantitative", "scale": {"domain": [-7.72, 12.75], "nice": false, "zero": false}, "axis": {"values": [-7, -4, -1, 2, 5, 8, 11], "format": "d", "tickCount": 30, "labelOverlap": false, "title": "km⁻²", "titleX": -55}}}},
        {"data": {"name": "fitH"}, "mark": {"type": "line", "strokeWidth": 1.2},
         "encoding": {"x": {"field": "x", "type": "quantitative"}, "y": {"field": "y", "type": "quantitative"}, "color": {"field": "fit", "type": "nominal", "scale": {"domain": ["linear", "quadratic"], "range": ["#000000", "#0000ff"]}, "legend": null}}},
        {"data": {"values": [{}]}, "mark": {"type": "text", "fontSize": 15, "fontWeight": "bold", "align": "center", "baseline": "middle", "color": "black"},
         "encoding": {"x": {"datum": 18.0}, "y": {"datum": -4.54}, "text": {"value": "H"}}},
        {"data": {"values": [{}]}, "mark": {"type": "text", "fontSize": 15, "fontWeight": "bold", "align": "center", "baseline": "alphabetic", "color": "black"},
         "encoding": {"x": {"datum": 15.97}, "y": {"datum": -18.39}, "text": {"value": "(gram)"}}}
      ]
    }
  ]
}
